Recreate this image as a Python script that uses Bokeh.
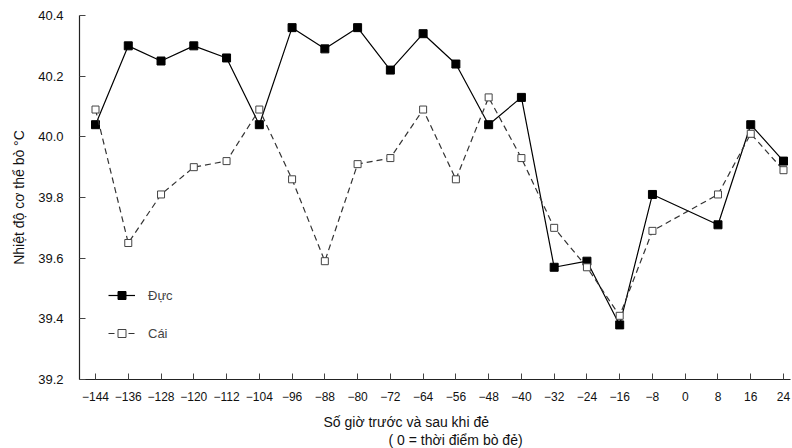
from bokeh.plotting import figure
from bokeh.models import Range1d, FixedTicker, Legend, LegendItem, Title, PrintfTickFormatter
from bokeh.embed import file_html
from bokeh.resources import INLINE

hours = [-144, -136, -128, -120, -112, -104, -96, -88, -80, -72, -64, -56, -48,
         -40, -32, -24, -16, -8, 8, 16, 24]
male = [40.04, 40.30, 40.25, 40.30, 40.26, 40.04, 40.36, 40.29, 40.36, 40.22, 40.34,
        40.24, 40.04, 40.13, 39.57, 39.59, 39.38, 39.81, 39.71, 40.04, 39.92]
female = [40.09, 39.65, 39.81, 39.90, 39.92, 40.09, 39.86, 39.59, 39.91, 39.93, 40.09,
          39.86, 40.13, 39.93, 39.70, 39.57, 39.41, 39.69, 39.81, 40.01, 39.89]
x_ticks = [-144, -136, -128, -120, -112, -104, -96, -88, -80, -72, -64, -56, -48,
           -40, -32, -24, -16, -8, 0, 8, 16, 24]
y_ticks = [39.2, 39.4, 39.6, 39.8, 40.0, 40.2, 40.4]

FONT = "Liberation Sans"

p = figure(width=792, height=448, output_backend="svg", toolbar_location=None,
           x_range=Range1d(-147.91, 25.71), y_range=Range1d(39.2, 40.4),
           min_border_left=79, min_border_right=2, min_border_top=15, min_border_bottom=69)
p.outline_line_color = None
p.xgrid.visible = False
p.ygrid.visible = False
p.background_fill_color = "white"

p.xaxis.ticker = FixedTicker(ticks=x_ticks)
p.yaxis.ticker = FixedTicker(ticks=y_ticks)
p.yaxis.formatter = PrintfTickFormatter(format="%.1f")
for ax in (p.xaxis, p.yaxis):
    ax.major_tick_in = 6
    ax.major_tick_out = 0
    ax.minor_tick_in = 0
    ax.minor_tick_out = 0
    ax.axis_line_color = "#222222"
    ax.axis_line_width = 1.2
    ax.major_tick_line_color = "#444444"
    ax.major_label_text_font = FONT
    ax.major_label_text_color = "#111111"
p.xaxis.major_label_text_font_size = "12px"
p.yaxis.major_label_text_font_size = "13px"
p.xaxis.major_label_standoff = 12
p.yaxis.major_label_standoff = 16

# small invisible spacer below the tick labels
p.xaxis.axis_label = " "
p.xaxis.axis_label_text_font_size = "1px"
p.xaxis.axis_label_standoff = 4

p.yaxis.axis_label = "Nhiệt độ cơ thể bò °C"
p.yaxis.axis_label_text_font = FONT
p.yaxis.axis_label_text_font_size = "14px"
p.yaxis.axis_label_text_font_style = "normal"
p.yaxis.axis_label_text_color = "#111111"
p.yaxis.axis_label_standoff = 8

ml = p.line(hours, male, line_color="black", line_width=1.2)
ms = p.scatter(hours, male, marker="square", size=8, fill_color="black", line_color="black")
fl = p.line(hours, female, line_color="#333333", line_width=1.2, line_dash="6 4")
fs = p.scatter(hours, female, marker="square", size=7, fill_color="white",
               line_color="#444444", line_width=1)

legend = Legend(items=[LegendItem(label="Đực", renderers=[ml, ms]),
                       LegendItem(label="Cái", renderers=[fl, fs])],
                location=(29, 36), border_line_color=None, background_fill_alpha=0,
                glyph_width=27, glyph_height=20, label_height=20, spacing=18,
                padding=0, margin=0, label_standoff=13,
                label_text_font=FONT, label_text_font_size="13px")
p.add_layout(legend)

t1 = Title(text="Số giờ trước và sau khi đẻ", align="left", offset=244,
           text_font=FONT, text_font_size="14px", text_font_style="normal",
           text_color="#111111", standoff=0)
t2 = Title(text="( 0 = thời điểm bò đẻ)", align="left", offset=309,
           text_font=FONT, text_font_size="14px", text_font_style="normal",
           text_color="#111111", standoff=0)
p.add_layout(t1, "below")
p.add_layout(t2, "below")

open("out.html", "w").write(file_html(p, INLINE))
